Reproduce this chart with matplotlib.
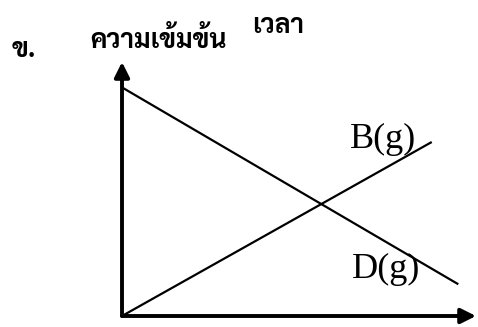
import matplotlib
matplotlib.use("Agg")
import matplotlib.pyplot as plt

# concentration vs time (arbitrary units)
time_d = [0, 9.5]
conc_d = [9.0, 1.25]
time_b = [0, 8.75]
conc_b = [0, 6.85]

W, H = 478, 327
fig = plt.figure(figsize=(W / 100, H / 100), dpi=100)
# axes box: origin at (122, 316) px, x-arrow tip ~476, y-arrow tip ~62
ax = fig.add_axes([122 / W, (H - 316) / H, (476 - 122) / W, (316 - 62) / H])
ax.set_xlim(0, 10)
ax.set_ylim(0, 10)
ax.axis("off")

ax.plot(time_d, conc_d, color="black", lw=1.6, solid_capstyle="butt")
ax.plot(time_b, conc_b, color="black", lw=1.6, solid_capstyle="butt")

arrow = dict(arrowstyle="-|>,head_length=0.9,head_width=0.45", color="black",
             lw=2.8, shrinkA=0, shrinkB=0)
ax.annotate("", xy=(1, 0), xytext=(0, 0), xycoords="axes fraction",
            arrowprops=arrow, annotation_clip=False)
ax.annotate("", xy=(0, 1), xytext=(0, 0), xycoords="axes fraction",
            arrowprops=arrow, annotation_clip=False)

serif = dict(family="Liberation Serif", fontsize=26, va="baseline", ha="left")
ax.text(6.44, 6.61, "B(g)", **serif)
ax.text(6.5, 1.50, "D(g)", **serif)

thai = ["Sarabun", "DejaVu Sans"]
fig.text(90 / W, (H - 48) / H, "ความเข้มข้น", family=thai, fontweight="bold",
         fontsize=19, va="baseline")
fig.text(252 / W, (H - 33) / H, "เวลา", family=thai, fontweight="bold",
         fontsize=19, va="baseline")
fig.text(12 / W, (H - 57) / H, "ข.", family=thai, fontweight="bold",
         fontsize=19, va="baseline")

fig.savefig("out.png", dpi=100)
